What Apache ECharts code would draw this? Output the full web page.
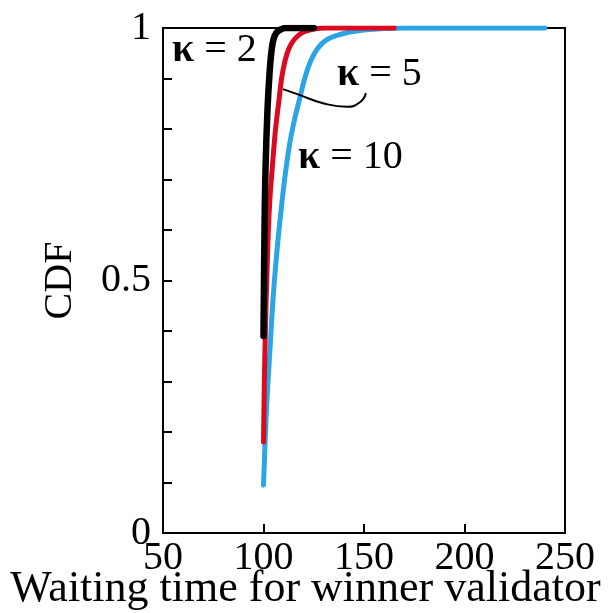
<!DOCTYPE html>
<html>
<head>
<meta charset="utf-8">
<script src="https://cdn.jsdelivr.net/npm/echarts@6/dist/echarts.min.js"></script>
<style>
  html, body { margin: 0; padding: 0; background: #fff; }
  #chart { width: 611px; height: 613px; }
</style>
</head>
<body>
<div id="chart"></div>
<script>
// CDF curves, [waiting time, CDF]
const k2 = [[100, 0.39], [100.5, 0.6], [101, 0.72], [102, 0.84], [103, 0.91], [104, 0.955],
  [105, 0.978], [106.5, 0.991], [108.5, 0.997], [111, 1], [125, 1]];
const k5 = [[100, 0.18], [100.7, 0.36], [102, 0.55], [103, 0.65], [104.3, 0.72], [106, 0.8],
  [107.7, 0.857], [109, 0.9], [110.7, 0.935], [112.5, 0.958], [114.7, 0.974], [117.5, 0.986],
  [120.6, 0.993], [125, 0.998], [131, 1], [165, 1]];
const k10 = [[100, 0.095], [100.8, 0.18], [101.7, 0.263], [103.2, 0.362], [104.7, 0.461],
  [106.5, 0.55], [108.5, 0.63], [110.5, 0.7], [113, 0.77], [115.5, 0.82], [118, 0.86],
  [120.5, 0.9], [123.5, 0.935], [127, 0.96], [131.5, 0.977], [137, 0.986], [143, 0.992],
  [150, 0.996], [160, 0.999], [170, 1], [240, 1]];
// pointer line from the κ = 5 label to the red curve
const pointer = [[109.7, 0.879], [118.2, 0.867], [129.6, 0.851], [141.5, 0.844], [148, 0.853], [151, 0.871]];
const yLabels = ['0', '0.5', '1'];
// label anchors (data coords)
const labels = [
  { txt: '2', at: [54.5, 0.952] },
  { txt: '5', at: [136.6, 0.903] },
  { txt: '10', at: [117.2, 0.739] }
];

const font = 'Liberation Serif';
const chart = echarts.init(document.getElementById('chart'));

const option = {
  animation: false,
  title: {
    text: 'Waiting time for winner validator',
    left: 'center',
    top: 567,
    padding: 0,
    textStyle: { fontFamily: font, fontSize: 44, fontWeight: 'normal', color: '#000' }
  },
  grid: {
    left: 163, right: 46, top: 28, bottom: 80,
    show: true, borderColor: '#000', borderWidth: 2
  },
  xAxis: {
    type: 'value', min: 50, max: 250, interval: 50,
    axisLine: { lineStyle: { color: '#000', width: 2 } },
    axisTick: { inside: true, length: 9, lineStyle: { width: 2 } },
    axisLabel: { color: '#000', fontFamily: font, fontSize: 40, margin: 5 },
    splitLine: { show: false }
  },
  yAxis: {
    type: 'value', min: 0, max: 1, interval: 0.1,
    name: 'CDF', nameLocation: 'middle', nameGap: 83, nameRotate: 90,
    nameTextStyle: { fontFamily: font, fontSize: 40, color: '#000' },
    axisLine: { show: true, lineStyle: { color: '#000', width: 2 } },
    axisTick: { inside: true, length: 9, lineStyle: { width: 2 } },
    axisLabel: {
      color: '#000', fontFamily: font, fontSize: 40, margin: 12,
      formatter: v => {
        const r = Math.round(v * 10);
        if (r === 0) return yLabels[0];
        if (r === 5) return yLabels[1];
        if (r === 10) return yLabels[2];
        return '';
      }
    },
    splitLine: { show: false }
  },
  series: [
    {
      name: 'κ = 10', type: 'line', data: k10, showSymbol: false, smooth: 0.4,
      lineStyle: { color: '#2aa6e6', width: 5, cap: 'round', join: 'round' }, z: 2
    },
    {
      name: 'κ = 5', type: 'line', data: k5, showSymbol: false, smooth: 0.4,
      lineStyle: { color: '#dc0a1e', width: 5, cap: 'round', join: 'round' }, z: 3
    },
    {
      name: 'κ = 2', type: 'line', data: k2, showSymbol: false, smooth: 0.4,
      lineStyle: { color: '#000', width: 6.5, cap: 'round', join: 'round' }, z: 4
    },
    {
      name: 'pointer', type: 'line', data: pointer, showSymbol: false, smooth: true, silent: true,
      lineStyle: { color: '#000', width: 2 }, z: 5
    }
  ]
};

chart.setOption(option);

// κ labels placed through the axes
chart.setOption({
  graphic: labels.map(l => {
    const p = chart.convertToPixel({ gridIndex: 0 }, l.at);
    return {
      type: 'text', left: p[0], top: p[1] - 22, z: 10,
      style: {
        text: '{k|κ} = ' + l.txt,
        font: '40px "' + font + '"',
        fill: '#000',
        rich: { k: { fontFamily: font, fontSize: 40, fontWeight: 'bold', fill: '#000' } }
      }
    };
  })
});
</script>
</body>
</html>
